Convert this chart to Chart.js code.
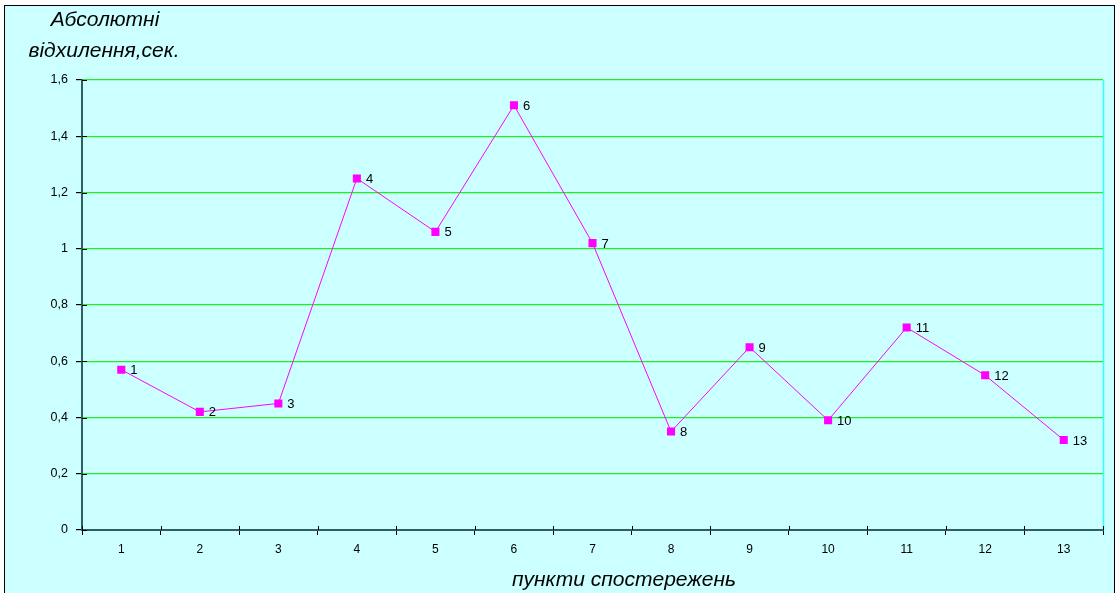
<!DOCTYPE html>
<html>
<head>
<meta charset="utf-8">
<script src="https://cdn.jsdelivr.net/npm/chart.js@4/dist/chart.umd.min.js"></script>
<style>
  html, body { margin: 0; padding: 0; background: #ffffff; }
  #frame { position: absolute; left: 4px; top: 5px; width: 1109px; height: 600px;
           border: 1px solid #000; border-bottom: none; background: #CCFFFF; }
  #wrap { position: absolute; left: 0; top: 0; width: 1115px; height: 593px; }
</style>
</head>
<body>
<div id="frame"></div>
<div id="wrap"><canvas id="c" width="1115" height="593"></canvas></div>
<script>
const categories = ['1','2','3','4','5','6','7','8','9','10','11','12','13'];
const deviations = [0.57, 0.42, 0.45, 1.25, 1.06, 1.51, 1.02, 0.35, 0.65, 0.39, 0.72, 0.55, 0.32];
const yTitleLines = ['Абсолютні', 'відхилення,сек.'];
const xTitle = 'пункти спостережень';

const FONT = '"Liberation Sans", Arial, sans-serif';

const decorPlugin = {
  id: 'decor',
  beforeDatasetsDraw(chart) {
    const ctx = chart.ctx, a = chart.chartArea;
    ctx.save();
    ctx.strokeStyle = '#33FFFF';
    ctx.lineWidth = 1.5;
    ctx.beginPath();
    ctx.moveTo(a.right + 0.5, a.top);
    ctx.lineTo(a.right + 0.5, a.bottom);
    ctx.stroke();
    // tick marks crossing into plot area
    ctx.strokeStyle = '#000';
    ctx.lineWidth = 1;
    const ys = chart.scales.y;
    ys.ticks.forEach((t) => {
      const y = Math.round(ys.getPixelForValue(t.value)) + 0.5;
      ctx.beginPath(); ctx.moveTo(a.left, y); ctx.lineTo(a.left + 5, y); ctx.stroke();
    });
    const xs = chart.scales.x;
    for (let i = 0; i <= categories.length; i++) {
      const x = Math.round(xs.getPixelForValue(i - 0.5)) + 0.5;
      ctx.beginPath(); ctx.moveTo(x, a.bottom - 4); ctx.lineTo(x, a.bottom); ctx.stroke();
    }
    ctx.restore();
  },
  afterDatasetsDraw(chart) {
    const ctx = chart.ctx;
    const meta = chart.getDatasetMeta(0);
    ctx.save();
    ctx.fillStyle = '#000';
    ctx.font = '13px ' + FONT;
    ctx.textAlign = 'left';
    ctx.textBaseline = 'middle';
    meta.data.forEach((pt, i) => {
      ctx.fillText(categories[i], pt.x + 9, pt.y + 1);
    });
    // axis titles
    ctx.font = 'italic 21px ' + FONT;
    ctx.textAlign = 'center';
    ctx.fillText(yTitleLines[0], 105, 20);
    ctx.fillText(yTitleLines[1], 104, 51);
    ctx.fillText(xTitle, 624, 580);
    ctx.restore();
  }
};

new Chart(document.getElementById('c'), {
  type: 'line',
  data: {
    labels: categories,
    datasets: [{
      data: deviations,
      borderColor: '#FF00FF',
      borderWidth: 1,
      backgroundColor: '#FF00FF',
      pointStyle: 'rect',
      pointRadius: 5.7,
      pointHoverRadius: 5.7,
      pointBorderWidth: 0,
      tension: 0,
      fill: false
    }]
  },
  options: {
    responsive: false,
    animation: false,
    events: [],
    layout: { padding: { top: 80, right: 12, left: 0, bottom: 0 } },
    plugins: { legend: { display: false }, tooltip: { enabled: false }, title: { display: false } },
    scales: {
      x: {
        type: 'category',
        offset: true,
        afterFit(s) { s.height = 63; },
        grid: { offset: true, drawOnChartArea: false, drawTicks: true, tickLength: 5, tickColor: '#000' },
        border: { display: true, color: '#2F6060', width: 2 },
        ticks: { color: '#000', font: { family: FONT, size: 12 }, padding: 7, maxRotation: 0 }
      },
      y: {
        min: 0, max: 1.6,
        afterFit(s) { s.width = 82; },
        grid: {
          color: (c) => (c.tick && c.tick.value === 0) ? 'rgba(0,0,0,0)' : '#22EE22',
          lineWidth: 1.2,
          drawTicks: true, tickLength: 6, tickColor: '#000'
        },
        border: { display: true, color: '#2F6060', width: 2 },
        ticks: {
          stepSize: 0.2,
          color: '#000',
          padding: 8,
          font: { family: FONT, size: 12.5 },
          callback: (v) => {
            const r = Math.round(v * 10) / 10;
            return String(r).replace('.', ',');
          }
        }
      }
    }
  },
  plugins: [decorPlugin]
});
</script>
</body>
</html>
